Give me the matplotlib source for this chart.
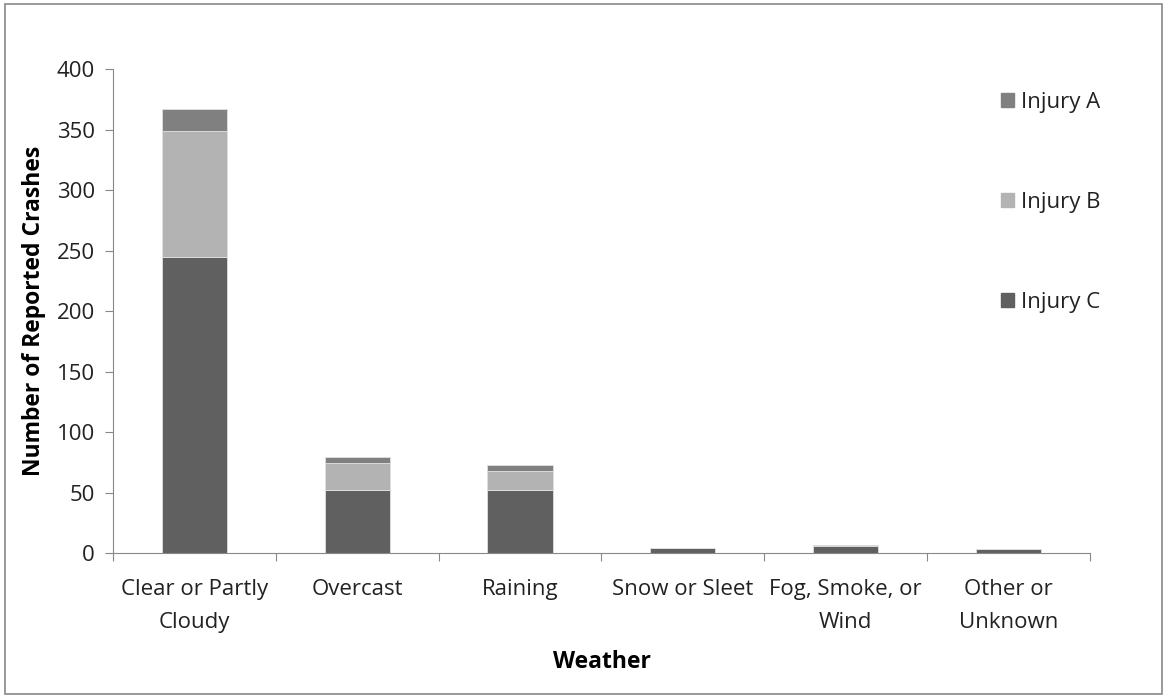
import matplotlib.pyplot as plt
import numpy as np
from matplotlib.patches import Rectangle, Patch

plt.rcParams['font.family'] = ['Open Sans', 'DejaVu Sans']

categories = ['Clear or Partly\nCloudy', 'Overcast', 'Raining', 'Snow or Sleet',
              'Fog, Smoke, or\nWind', 'Other or\nUnknown']
injury_c = [245, 52, 52, 4, 6, 3]
injury_b = [104, 22, 16, 0, 0, 0]
injury_a = [18, 5, 5, 0, 0.5, 0]

col_c = '#606060'
col_b = '#b3b3b3'
col_a = '#808080'

fig = plt.figure(figsize=(11.67, 6.98), dpi=100)
ax = fig.add_axes([0.0968, 0.2077, 0.8372, 0.6933])

x = np.arange(len(categories))
w = 0.4
c = np.array(injury_c)
b = np.array(injury_b)
a = np.array(injury_a)
ax.bar(x, c, w, color=col_c, edgecolor='#e0e0e0', linewidth=0.6, label='Injury C')
ax.bar(x, b, w, bottom=c, color=col_b, edgecolor='#e0e0e0', linewidth=0.6, label='Injury B')
ax.bar(x, a, w, bottom=c + b, color=col_a, edgecolor='#e0e0e0', linewidth=0.6, label='Injury A')

ax.set_xlim(-0.5, len(categories) - 0.5)
ax.set_ylim(0, 400)
ax.set_yticks(range(0, 401, 50))
ax.set_xticks(np.arange(-0.5, len(categories), 1.0))
ax.set_xticklabels([])
ax.set_xticks(x, minor=True)
ax.set_xticklabels(categories, minor=True, fontsize=16, linespacing=1.72, color='#222222')
ax.tick_params(axis='x', which='minor', length=0, pad=19)
ax.tick_params(axis='x', which='major', length=6, color='#888888', direction='out')
ax.tick_params(axis='y', length=6, color='#888888', labelsize=16, pad=7, labelcolor='#222222')

for s in ['top', 'right']:
    ax.spines[s].set_visible(False)
for s in ['left', 'bottom']:
    ax.spines[s].set_color('#888888')

ax.set_ylabel('Number of Reported Crashes', fontsize=16.5, fontweight='bold', labelpad=8)
ax.set_xlabel('Weather', fontsize=16.5, fontweight='bold', labelpad=12)

handles = [Patch(color=col_a), Patch(color=col_b), Patch(color=col_c)]
fig.legend(handles, ['Injury A', 'Injury B', 'Injury C'], loc='upper left',
           bbox_to_anchor=(0.841, 0.897), frameon=False, fontsize=16,
           labelspacing=3.55, handlelength=0.55, handleheight=0.55, handletextpad=0.35,
           labelcolor='#222222')

fig.patches.append(Rectangle((0.004, 0.006), 0.992, 0.988, transform=fig.transFigure,
                             fill=False, edgecolor='#888888', linewidth=1.2))

fig.savefig('out.png', dpi=100)
